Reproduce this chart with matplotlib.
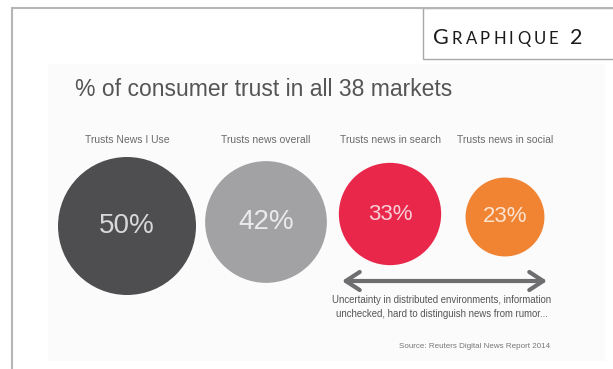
import matplotlib.pyplot as plt
from matplotlib.patches import Circle, Rectangle

# trust in news, all 38 markets
labels = ["Trusts News I Use", "Trusts news overall",
          "Trusts news in search", "Trusts news in social"]
values = [50, 42, 33, 23]
colors = ["#4e4e50", "#a2a2a5", "#e8274b", "#f18433"]
title = "% of consumer trust in all 38 markets"
note = "Uncertainty in distributed environments, information\nunchecked, hard to distinguish news from rumor..."
source = "Source: Reuters Digital News Report 2014"

# layout in pixels
cx = [127, 266, 390, 505]
cy = [226, 222, 214, 217]
pct_size = [20, 20, 16, 16]
r_max = 69

fig = plt.figure(figsize=(6.13, 3.69), dpi=100)
ax = fig.add_axes([0, 0, 1, 1])
ax.set_xlim(0, 613)
ax.set_ylim(369, 0)
ax.axis("off")

# page frame + caption box
ax.plot([12, 12, 613], [369, 8, 8], color="#b5b5b5", lw=1.5, solid_joinstyle="miter")
ax.add_patch(Rectangle((423, 8), 200, 51, fill=False, ec="#a8a8a8", lw=1.0))

# small caps caption, letter by letter with tracking
fig.canvas.draw()
renderer = fig.canvas.get_renderer()
x = 433
for ch, fs in [("G", 15.5)] + [(c, 12) for c in "RAPHIQUE"]:
    t = ax.text(x, 44, ch, fontsize=fs, family="Lato", color="#1a1a1a")
    bb = t.get_window_extent(renderer)
    x += bb.width + 3.2
ax.text(x + 8, 44, "2", fontsize=15.5, family="Lato", color="#1a1a1a")

# embedded picture background
ax.add_patch(Rectangle((48, 64), 557, 297, fc="#fbfbfb", ec="none"))

ax.text(264, 89, title, fontsize=16.5, family="Liberation Sans",
        color="#555555", ha="center", va="center")

for lab, v, c, x, y, fs in zip(labels, values, colors, cx, cy, pct_size):
    r = r_max * (v / 50) ** 0.72
    ax.add_patch(Circle((x, y), r, fc=c, ec="none"))
    ax.text(x, y, f"{v}%", fontsize=fs, family="Liberation Sans",
            color="white", alpha=0.78, ha="center", va="center")
    ax.text(x, 140, lab, fontsize=7.5, family="Liberation Sans",
            color="#6a6a6a", ha="center", va="center")

ax.annotate("", xy=(547, 281), xytext=(342, 281),
            arrowprops=dict(arrowstyle="<->,head_length=1.0,head_width=0.65",
                            color="#6e6e70", lw=3, shrinkA=0, shrinkB=0))

ax.text(442, 307, note, fontsize=6.9, family="Liberation Sans", color="#555555",
        ha="center", va="center", linespacing=1.45)
ax.text(550, 347, source, fontsize=5.8, family="Liberation Sans", color="#777777",
        ha="right", va="center")

fig.savefig("out.png", dpi=100)
